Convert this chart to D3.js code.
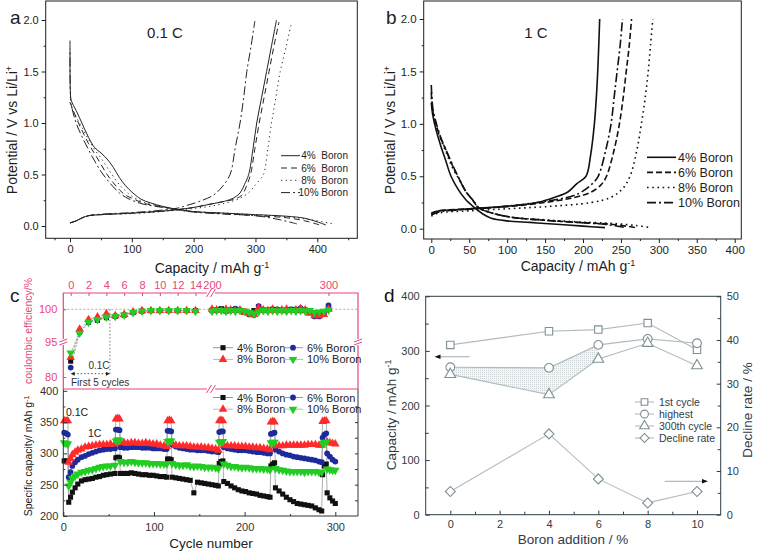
<!DOCTYPE html>
<html><head><meta charset="utf-8">
<script src="https://cdn.jsdelivr.net/npm/d3@7"></script>
<style>body{margin:0;background:#fff}svg{display:block}</style>
</head><body><svg id="chart" width="758" height="556"></svg>
<script>
// ---------------- DATA ----------------
// Panel a (0.1 C): [capacity mAh/g, potential V]
const aDis4 = [[0,1.72],[0.6,1.3],[2,1.22],[10,1.12],[20,0.99],[30,0.86],[40,0.76],[50,0.71],[60,0.65],[70,0.57],[80,0.47],[90,0.39],[100,0.33],[115,0.26],[130,0.225],[150,0.19],[175,0.16],[200,0.14],[250,0.125],[300,0.11],[350,0.095],[380,0.075],[400,0.04],[414,0.01]];
const aDis6 = [[0,1.2],[2,1.17],[10,1.05],[20,0.92],[30,0.8],[40,0.7],[50,0.6],[60,0.5],[70,0.42],[80,0.35],[90,0.3],[100,0.27],[120,0.22],[150,0.185],[175,0.16],[200,0.14],[250,0.12],[300,0.1],[350,0.08],[380,0.05],[404,0.01]];
const aDis8 = [[0,1.2],[2,1.16],[10,1.06],[20,0.95],[30,0.84],[40,0.74],[50,0.66],[60,0.57],[70,0.48],[80,0.4],[90,0.34],[100,0.29],[120,0.23],[150,0.19],[175,0.16],[200,0.14],[250,0.125],[300,0.11],[350,0.09],[390,0.06],[426,0.02]];
const aDis10 = [[0,1.8],[0.6,1.3],[2,1.18],[10,1.0],[20,0.86],[30,0.74],[40,0.63],[50,0.53],[60,0.45],[70,0.38],[80,0.32],[90,0.28],[100,0.25],[120,0.21],[150,0.18],[175,0.155],[200,0.135],[250,0.115],[300,0.1],[340,0.06],[367,0.02]];
const aCh4 = [[0,0.03],[10,0.05],[20,0.08],[30,0.1],[50,0.11],[100,0.125],[150,0.145],[175,0.16],[200,0.18],[225,0.21],[250,0.24],[264,0.27],[275,0.32],[282,0.4],[289,0.5],[296,0.75],[302,1.0],[310,1.25],[318,1.5],[326,1.75],[334,2.0]];
const aCh6 = [[0,0.03],[10,0.05],[20,0.08],[30,0.1],[50,0.11],[100,0.125],[150,0.145],[175,0.16],[200,0.18],[225,0.21],[250,0.24],[266,0.26],[278,0.3],[285,0.38],[292,0.5],[299,0.75],[306,1.0],[314,1.25],[322,1.5],[330,1.75],[338,1.98]];
const aCh8 = [[0,0.03],[10,0.05],[20,0.08],[30,0.1],[50,0.11],[100,0.12],[150,0.14],[175,0.155],[200,0.17],[225,0.19],[250,0.22],[275,0.27],[290,0.33],[300,0.4],[307,0.45],[313,0.5],[320,0.75],[326,1.0],[333,1.25],[340,1.5],[350,1.75],[358,1.97]];
const aCh10 = [[0,0.03],[10,0.05],[20,0.08],[30,0.1],[50,0.115],[100,0.13],[150,0.155],[175,0.175],[189,0.2],[210,0.24],[232,0.3],[246,0.38],[259,0.5],[267,0.75],[275,1.0],[281,1.25],[286,1.5],[293,1.75],[299,1.99]];

// Panel b (1 C)
const bDis4 = [[0,1.2],[2,1.08],[6,0.95],[12,0.8],[19,0.65],[26,0.5],[35,0.38],[45,0.28],[57,0.2],[68,0.14],[79,0.1],[100,0.075],[130,0.06],[160,0.045],[200,0.025],[229,0.01]];
const bDis6 = [[0,1.3],[2,1.12],[6,1.0],[12,0.87],[20,0.74],[28,0.6],[35,0.5],[46,0.35],[55,0.27],[62,0.2],[80,0.15],[105,0.11],[150,0.08],[193,0.06],[240,0.04],[270,0.01]];
const bDis8 = [[0,1.25],[2,1.1],[6,0.98],[12,0.86],[20,0.72],[28,0.58],[36,0.48],[46,0.35],[55,0.27],[63,0.2],[80,0.15],[105,0.11],[150,0.085],[193,0.065],[240,0.05],[270,0.03],[290,0.01]];
const bDis10 = [[0,1.37],[2,1.15],[6,1.02],[12,0.88],[20,0.74],[28,0.61],[35,0.5],[46,0.35],[55,0.27],[62,0.2],[80,0.15],[105,0.11],[150,0.08],[193,0.06],[230,0.04],[257,0.01]];
const bCh4 = [[0,0.14],[10,0.17],[30,0.18],[50,0.19],[100,0.215],[140,0.25],[163,0.3],[180,0.35],[192,0.43],[204,0.5],[210,0.7],[215,1.0],[218,1.3],[220,1.6],[222,2.0]];
const bCh6 = [[0,0.15],[10,0.17],[50,0.19],[100,0.21],[150,0.25],[190,0.3],[211,0.35],[224,0.42],[231,0.5],[241,0.75],[248,1.0],[253,1.25],[257,1.5],[261,1.75],[264,2.0]];
const bCh8 = [[0,0.12],[10,0.15],[50,0.17],[100,0.19],[150,0.21],[211,0.25],[237,0.3],[252,0.38],[262,0.5],[271,0.75],[277,1.0],[282,1.25],[286,1.5],[289,1.75],[292,2.0]];
const bCh10 = [[0,0.13],[10,0.16],[50,0.185],[100,0.215],[150,0.26],[185,0.31],[198,0.35],[211,0.42],[220,0.5],[230,0.75],[237,1.0],[241,1.25],[245,1.5],[249,1.75],[252,2.0]];

// Panel c, top: coulombic efficiency
const ceEarlyX = [0,1,2,3,4,5,6,7,8,9,10,11,12,13,14];
const ceEarly4 = [86.7,96.5,98.0,98.3,98.7,98.9,99.1,99.5,99.7,99.8,99.8,99.8,99.8,99.8,99.8];
const ceEarly6 = [84.0,96.4,98.1,98.4,98.8,98.9,99.1,99.5,99.7,99.8,99.8,99.8,99.8,99.8,99.8];
const ceEarly8 = [88.3,96.9,98.4,98.8,99.3,99.0,99.2,99.6,99.8,99.8,99.8,99.8,99.8,99.8,99.8];
const ceEarly10 = [90.2,96.3,98.0,98.4,98.8,98.9,99.1,99.5,99.7,99.8,99.8,99.8,99.8,99.8,99.7];
const ceLateX = [200,204,208,212,216,220,224,228,232,236,240,244,248,252,256,260,264,268,272,276,280,284,288,292,296,300];
const ceLate4 = [99.8,99.9,100.1,99.7,99.9,100.0,99.8,99.7,99.5,99.8,100.3,99.9,99.8,100.0,99.9,99.8,99.9,100.0,99.9,99.8,99.9,99.6,99.2,99.3,99.4,100.2];
const ceLate6 = [99.9,99.8,100.0,99.9,99.8,100.1,99.9,99.6,99.2,99.1,100.5,99.8,99.9,99.8,100.0,99.9,99.8,99.9,100.0,100.2,99.8,99.5,98.9,98.9,99.3,100.6];
const ceLate8 = [100.0,99.9,99.8,100.0,99.9,99.8,99.9,99.5,99.3,99.2,100.2,99.9,99.8,100.0,99.8,99.9,100.0,99.8,99.9,100.1,99.9,99.4,99.0,99.0,99.2,100.0];
const ceLate10 = [99.7,99.8,99.8,99.7,99.8,99.7,99.8,99.7,99.5,99.3,99.6,99.8,99.7,99.8,99.7,99.8,99.7,99.8,99.7,99.8,99.7,99.8,99.5,99.6,99.7,99.9];

// Panel c, bottom: specific capacity vs cycle
const cCycles = [1,3,5, 6,8,10,13,16,20,24,28,32,36,40,44,48,52,57, 58,60,62, 63,67,71,75,79,83,87,91,95,99,103,107,111,114, 115,117,119, 120,124,128,132,136,140,144,148,152,156,160,164,168,171, 172,174,176, 177,181,185,189,193,197,201,205,209,213,217,221,225,228, 229,231,233, 234,238,242,246,250,254,258,262,266,270,274,278,282,285, 286,288,290, 291,294,297,300];
const cap4 = [288,288,287, 222,230,238,245,251,256,258,259,260,262,263,265,266,267,268, 293,294,293, 268,268,268,269,268,267,266,266,265,265,264,263,263,262, 291,291,290, 262,261,260,259,258,257,237,254,253,252,251,250,249,248, 284,287,288, 255,252,248,245,242,240,239,237,236,235,233,232,231,230, 280,283,285, 245,240,235,230,226,223,220,219,218,217,216,213,210,208, 266,280,283, 237,229,224,220];
const cap6 = [333,332,330, 262,270,280,286,290,294,296,299,301,303,305,306,307,307,308, 338,338,337, 310,309,309,310,310,310,309,309,309,308,308,308,307,307, 336,336,335, 314,311,309,308,307,306,306,305,305,305,304,303,303,302, 334,335,335, 310,308,307,306,305,305,305,304,303,302,302,301,300,300, 331,332,333, 306,303,300,298,297,295,294,293,292,291,290,289,287,286, 325,330,332, 300,295,290,287];
const cap8 = [352,352,352, 286,292,298,302,305,307,310,311,312,313,314,314,314,315,315, 355,356,355, 318,317,316,317,317,316,316,317,316,315,315,313,312,311, 352,353,352, 316,313,312,312,312,311,310,310,310,309,309,308,307,305, 352,353,352, 313,312,312,312,311,311,311,310,310,309,309,308,307,306, 350,351,350, 312,312,312,313,313,313,313,313,313,314,314,314,313,313, 351,352,352, 318,317,316,315];
const cap10 = [317,316,315, 248,254,260,264,267,270,271,273,274,276,278,279,280,280,281, 320,322,321, 287,286,286,287,286,285,285,285,284,284,284,283,283,283, 319,320,320, 284,282,281,281,282,280,279,280,279,278,278,278,277,276, 318,319,319, 283,281,279,279,278,277,278,277,276,276,276,275,275,274, 317,318,318, 276,274,273,272,271,271,271,271,270,271,271,271,270,270, 316,318,318, 275,274,273,273];

// Panel d
const dBoron = [0,4,6,8,10];
const dFirst = [311,336,339,351,302];
const dHighest = [270,269,311,322,314];
const d300th = [257,220,285,314,273];
const dDecline = [5.3,18.5,8.2,2.7,5.3];

const seriesNames = ['4% Boron','6% Boron','8% Boron','10% Boron'];

// ---------------- DRAWING ----------------
const svg = d3.select('#chart');
const FONT = '"Liberation Sans", Arial, Helvetica, sans-serif';
const INK = '#1d1d1d';
const PINK = '#e8467c';

function txt(x,y,s,o={}){
  const t = svg.append('text').attr('x',x).attr('y',y).attr('font-family',FONT)
    .attr('font-size',o.fs||12).attr('fill',o.fill||INK).attr('text-anchor',o.anchor||'start');
  if(o.rot) t.attr('transform',`rotate(${o.rot},${x},${y})`);
  if(o.parts){
    o.parts.forEach(p=>{const ts=t.append('tspan').text(p[0]); if(p[1]) ts.attr('baseline-shift','super').attr('font-size',(o.fs||12)*0.65);});
  } else t.text(s);
  if(o.pre) t.style('white-space','pre');
  return t;
}
function ax(gen,tx,ty,color,fs){
  const g = svg.append('g').attr('transform',`translate(${tx},${ty})`).call(gen);
  g.select('.domain').remove();
  g.selectAll('.tick line').attr('stroke',color).attr('stroke-width',1);
  g.selectAll('.tick text').attr('fill',color).attr('font-size',fs).attr('font-family',FONT);
  return g;
}
function frame(x0,y0,x1,y1,color,sw){
  svg.append('rect').attr('x',x0).attr('y',y0).attr('width',x1-x0).attr('height',y1-y0)
    .attr('fill','none').attr('stroke',color||INK).attr('stroke-width',sw||1);
}

// ===== Panel a =====
const xA = d3.scaleLinear().domain([0,400]).range([70,317.3]);
const yA = d3.scaleLinear().domain([0,2]).range([226,20]);
frame(45.7,1,357.3,238.3);
ax(d3.axisBottom(xA).tickValues([0,100,200,300,400]).tickSize(4).tickPadding(3),0,238.3,INK,11);
ax(d3.axisBottom(xA).tickValues([-25,50,150,250,350,450]).tickSize(2).tickFormat(''),0,238.3,INK,11);
ax(d3.axisLeft(yA).tickValues([0,0.5,1,1.5,2]).tickSize(4).tickPadding(3).tickFormat(d3.format('.1f')),45.7,0,INK,11);
ax(d3.axisLeft(yA).tickValues([0.25,0.75,1.25,1.75]).tickSize(2).tickFormat(''),45.7,0,INK,11);
const lineA = d3.line().x(d=>xA(d[0])).y(d=>yA(d[1])).curve(d3.curveCatmullRom.alpha(0.5));
const dashA = ['none','6,4','1.2,3.5','9,3,2,3'];
[[aDis4,aCh4],[aDis6,aCh6],[aDis8,aCh8],[aDis10,aCh10]].forEach((pair,i)=>{
  pair.forEach(d=>svg.append('path').attr('d',lineA(d)).attr('fill','none').attr('stroke','#222')
    .attr('stroke-width',1).attr('stroke-dasharray',dashA[i]));
});
txt(10,24,'a',{fs:19});
txt(165,38,'0.1 C',{fs:15,anchor:'middle'});
txt(212,273,'',{fs:14,anchor:'middle',parts:[['Capacity / mAh g'],['-1',1]]});
txt(17,130,'',{fs:14,anchor:'middle',rot:-90,parts:[['Potential / V vs Li/Li'],['+',1]]});
const legA = ['4%  Boron','6%  Boron','8%  Boron','10% Boron'];
legA.forEach((s,i)=>{
  const y = 155.7 + i*12.3;
  svg.append('line').attr('x1',281).attr('x2',300).attr('y1',y).attr('y2',y).attr('stroke','#222').attr('stroke-width',1).attr('stroke-dasharray',dashA[i]);
  txt(348,y+3.7,s,{fs:10,anchor:'end',pre:true});
});

// ===== Panel b =====
const xB = d3.scaleLinear().domain([0,400]).range([431.3,734.7]);
const yB = d3.scaleLinear().domain([0,2]).range([228.7,19]);
frame(423.7,1,741.3,239);
ax(d3.axisBottom(xB).tickValues([0,50,100,150,200,250,300,350,400]).tickSize(4).tickPadding(3),0,239,INK,11.5);
ax(d3.axisBottom(xB).tickValues([25,75,125,175,225,275,325,375]).tickSize(2).tickFormat(''),0,239,INK,11);
ax(d3.axisLeft(yB).tickValues([0,0.5,1,1.5,2]).tickSize(4).tickPadding(3).tickFormat(d3.format('.1f')),423.7,0,INK,11.5);
ax(d3.axisLeft(yB).tickValues([0.25,0.75,1.25,1.75]).tickSize(2).tickFormat(''),423.7,0,INK,11);
const lineB = d3.line().x(d=>xB(d[0])).y(d=>yB(d[1])).curve(d3.curveCatmullRom.alpha(0.5));
const dashB = ['none','6,3','1.6,3.6','9,3,2,3'];
[[bDis4,bCh4],[bDis6,bCh6],[bDis8,bCh8],[bDis10,bCh10]].forEach((pair,i)=>{
  pair.forEach(d=>svg.append('path').attr('d',lineB(d)).attr('fill','none').attr('stroke','#111')
    .attr('stroke-width',1.6).attr('stroke-dasharray',dashB[i]));
});
txt(386,24,'b',{fs:19});
txt(536,38,'1 C',{fs:15,anchor:'middle'});
txt(578,271,'',{fs:14,anchor:'middle',parts:[['Capacity / mAh g'],['-1',1]]});
txt(395,130,'',{fs:14,anchor:'middle',rot:-90,parts:[['Potential / V vs Li/Li'],['+',1]]});
seriesNames.forEach((s,i)=>{
  const y = 157.3 + i*15.1;
  svg.append('line').attr('x1',647).attr('x2',676).attr('y1',y).attr('y2',y).attr('stroke','#111').attr('stroke-width',1.6).attr('stroke-dasharray',dashB[i]);
  txt(678,y+4.5,s,{fs:12.5});
});

// ===== Panel c =====
const cColors = ['#111111','#1c2a9c','#ff2a2a','#22cc22'];
const cSymbols = [d3.symbolSquare,d3.symbolCircle,d3.symbolTriangle,d3.symbolTriangle];
const cSizes = [26,26,32,32];
const cRot = [0,0,0,180];
function marker(g,i,x,y,scale){
  g.append('path').attr('d',d3.symbol().type(cSymbols[i]).size(cSizes[i]*(scale||1))())
    .attr('transform',`translate(${x},${y}) rotate(${cRot[i]})`).attr('fill',cColors[i]);
}
// bottom
const xC = d3.scaleLinear().domain([0,300]).range([63.3,335.3]);
const yC = d3.scaleLinear().domain([200,400]).range([516,390.8]);
const capSeries = [cap4,cap6,cap8,cap10];
capSeries.forEach((vals,i)=>{
  const pts = cCycles.map((c,k)=>[xC(c),yC(vals[k])]);
  svg.append('path').attr('d',d3.line()(pts)).attr('fill','none').attr('stroke','#9a9a9a').attr('stroke-width',0.8);
});
capSeries.forEach((vals,i)=>{
  const g = svg.append('g');
  cCycles.forEach((c,k)=>marker(g,i,xC(c),yC(vals[k])));
});
svg.append('path').attr('d',`M63.3,389V516H358V389`).attr('fill','none').attr('stroke','#333');
ax(d3.axisLeft(yC).tickValues([200,250,300,350,400]).tickSize(-4).tickPadding(5),63.3,0,'#333',11);
ax(d3.axisLeft(yC).tickValues([225,275,325,375]).tickSize(-2).tickFormat(''),63.3,0,'#333',11);
ax(d3.axisRight(yC).tickValues([225,250,275,300,325,350,375]).tickSize(-3).tickFormat(''),358,0,'#333',11);
ax(d3.axisBottom(xC).tickValues([0,100,200,300]).tickSize(-4).tickPadding(7),0,516,'#333',11);
ax(d3.axisBottom(xC).tickValues([50,150,250]).tickSize(-2).tickFormat(''),0,516,'#333',11);
txt(211,548,'Cycle number',{fs:13.5,anchor:'middle',fill:'#222'});
txt(32,456,'',{fs:10.5,anchor:'middle',rot:-90,fill:'#222',parts:[['Specific capacity/ mAh g'],['-1',1]]});
txt(66,416,'0.1C',{fs:10.5,fill:'#222'});
txt(88,437,'1C',{fs:10.5,fill:'#222'});

// top (CE)
const xCe1 = d3.scaleLinear().domain([0,14]).range([70.7,195.5]);
const xCe2 = d3.scaleLinear().domain([200,300]).range([212,328.5]);
const yCe = d3.scaleLinear().domain([80,95,100]).range([377,341.5,309.3]);
svg.append('line').attr('x1',63.3).attr('x2',358).attr('y1',yCe(100)).attr('y2',yCe(100)).attr('stroke','#999').attr('stroke-dasharray','2,2').attr('stroke-width',0.8);
const ceE = [ceEarly4,ceEarly6,ceEarly8,ceEarly10];
const ceL = [ceLate4,ceLate6,ceLate8,ceLate10];
ceE.forEach((vals,i)=>{
  svg.append('path').attr('d',d3.line()(ceEarlyX.map((x,k)=>[xCe1(x),yCe(vals[k])]))).attr('fill','none').attr('stroke','#999').attr('stroke-width',0.8).attr('stroke-dasharray','2,1.5');
});
ceE.forEach((vals,i)=>{const g=svg.append('g'); ceEarlyX.forEach((x,k)=>marker(g,i,xCe1(x),yCe(vals[k])));});
ceL.forEach((vals,i)=>{
  svg.append('path').attr('d',d3.line()(ceLateX.map((x,k)=>[xCe2(x),yCe(vals[k])]))).attr('fill','none').attr('stroke','#999').attr('stroke-width',0.8);
});
ceL.forEach((vals,i)=>{const g=svg.append('g'); ceLateX.forEach((x,k)=>marker(g,i,xCe2(x),yCe(vals[k])));});
// first 5 cycles annotation
const x5 = xCe1(4.4);
svg.append('line').attr('x1',x5).attr('x2',x5).attr('y1',yCe(100)).attr('y2',374).attr('stroke','#555').attr('stroke-dasharray','1.5,2').attr('stroke-width',0.8);
svg.append('line').attr('x1',xCe1(0)+3).attr('x2',x5-3).attr('y1',373.7).attr('y2',373.7).attr('stroke','#444').attr('stroke-dasharray','1.5,2').attr('stroke-width',0.9);
svg.append('path').attr('d',`M${xCe1(0)},373.7l4,-2v4z`).attr('fill','#222');
svg.append('path').attr('d',`M${x5},373.7l-4,-2v4z`).attr('fill','#222');
txt(99,369,'0.1C',{fs:10,anchor:'middle',fill:'#333'});
txt(71,386,'First 5 cycles',{fs:10,fill:'#333'});
// pink frame
svg.append('path').attr('d','M63.3,389V293H358V389H63.3').attr('fill','none').attr('stroke',PINK).attr('stroke-width',1.2);
ax(d3.axisTop(xCe1).tickValues([0,2,4,6,8,10,12,14]).tickSize(-3).tickPadding(4),0,293,PINK,11);
ax(d3.axisTop(xCe2).tickValues([200,300]).tickSize(-3).tickPadding(4),0,293,PINK,11);
ax(d3.axisLeft(yCe).tickValues([80,95,100]).tickSize(-3).tickPadding(6),63.3,0,PINK,11);
// break marks
function brk(x,y,c){
  [-2,2].forEach(o=>svg.append('line').attr('x1',x+o-2.5).attr('y1',y+4).attr('x2',x+o+2.5).attr('y2',y-4).attr('stroke',c).attr('stroke-width',1));
}
svg.append('rect').attr('x',207).attr('y',290).attr('width',8).attr('height',6).attr('fill','#fff');
brk(211,293,PINK);
svg.append('rect').attr('x',207).attr('y',386).attr('width',8).attr('height',6).attr('fill','#fff');
brk(211,389,PINK);
function brkH(x,y,c){
  svg.append('rect').attr('x',x-3).attr('y',y-3).attr('width',6).attr('height',6).attr('fill','#fff');
  [-1.5,1.5].forEach(o=>svg.append('line').attr('x1',x-4).attr('y1',y+o+1.5).attr('x2',x+4).attr('y2',y+o-1.5).attr('stroke',c).attr('stroke-width',1));
}
brkH(63.3,342,PINK); brkH(358,342,PINK);
txt(32,331,'coulombic efficiency/%',{fs:10.5,anchor:'middle',rot:-90,fill:PINK});
txt(10,302,'c',{fs:19});

// c legends
function cLegend(y0){
  seriesNames.forEach((s,i)=>{
    const col = i%2, row = Math.floor(i/2);
    const x = col===0 ? 213 : 283, y = y0 + row*11.7;
    svg.append('line').attr('x1',x).attr('x2',x+20).attr('y1',y).attr('y2',y).attr('stroke', i===2?'#f3a0b0':(i===3?'#8fd88f':'#999')).attr('stroke-width',1);
    marker(svg.append('g'),i,x+10,y);
    txt(x+24,y+4,s,{fs:11,fill:'#222'});
  });
}
cLegend(347.7);
cLegend(397.5);

// ===== Panel d =====
const DC = '#2e3d44';
const xD = d3.scaleLinear().domain([0,10]).range([450.3,697]);
const yD = d3.scaleLinear().domain([0,400]).range([514.7,296.3]);
const yD2 = d3.scaleLinear().domain([0,50]).range([514.7,296.3]);
const shade = d3.area().x(d=>xD(d[0])).y0(d=>yD(d[1])).y1(d=>yD(d[2]));
const shadeData = dBoron.slice(0,3).map((b,k)=>[b,d300th[k],dHighest[k]]);
const defs = svg.append('defs');
const pat = defs.append('pattern').attr('id','dots').attr('width',2).attr('height',2).attr('patternUnits','userSpaceOnUse');
pat.append('rect').attr('width',2).attr('height',2).attr('fill','#f4f5f5');
pat.append('rect').attr('width',1).attr('height',1).attr('fill','#cfd4d6');
svg.append('path').attr('d',shade(shadeData)).attr('fill','url(#dots)');
frame(425.7,296.3,720.7,514.7,DC);
ax(d3.axisLeft(yD).tickValues([0,100,200,300,400]).tickSize(-4).tickPadding(6),425.7,0,DC,11);
ax(d3.axisLeft(yD).tickValues([50,150,250,350]).tickSize(-3).tickFormat(''),425.7,0,DC,11);
ax(d3.axisRight(yD2).tickValues([0,10,20,30,40,50]).tickSize(-4).tickPadding(6),720.7,0,DC,11);
ax(d3.axisRight(yD2).tickValues([5,15,25,35,45]).tickSize(-3).tickFormat(''),720.7,0,DC,11);
ax(d3.axisBottom(xD).tickValues([0,2,4,6,8,10]).tickSize(-4).tickPadding(6),0,514.7,DC,11);
ax(d3.axisBottom(xD).tickValues([1,3,5,7,9]).tickSize(-3).tickFormat(''),0,514.7,DC,11);
const LC = '#aebcc0', MC = '#7e9095';
const dSym = [d3.symbolSquare,d3.symbolCircle,d3.symbolTriangle,d3.symbolSquare];
const dSz = [55,60,50,50];
const dRot = [0,0,0,45];
const dSeries = [[dFirst,yD],[dHighest,yD],[d300th,yD],[dDecline,yD2]];
dSeries.forEach(([vals,ys],i)=>{
  svg.append('path').attr('d',d3.line()(dBoron.map((b,k)=>[xD(b),ys(vals[k])]))).attr('fill','none').attr('stroke',LC).attr('stroke-width',1.1);
  dBoron.forEach((b,k)=>svg.append('path').attr('d',d3.symbol().type(dSym[i]).size(dSz[i])())
    .attr('transform',`translate(${xD(b)},${ys(vals[k])}) rotate(${dRot[i]})`).attr('fill','#fff').attr('stroke',MC).attr('stroke-width',1.1));
});
// arrows
svg.append('line').attr('x1',469.7).attr('x2',440).attr('y1',356.7).attr('y2',356.7).attr('stroke',LC).attr('stroke-width',1.2);
svg.append('path').attr('d','M434.5,356.7l6,-2.2v4.4z').attr('fill','#111');
svg.append('line').attr('x1',664.7).attr('x2',702).attr('y1',481.3).attr('y2',481.3).attr('stroke',LC).attr('stroke-width',1.2);
svg.append('path').attr('d','M708,481.3l-6,-2.2v4.4z').attr('fill','#111');
// legend
['1st cycle','highest','300th cycle','Decline rate'].forEach((s,i)=>{
  const y = 402 + i*12;
  svg.append('line').attr('x1',635).attr('x2',654).attr('y1',y).attr('y2',y).attr('stroke',LC).attr('stroke-width',1.1);
  svg.append('path').attr('d',d3.symbol().type(dSym[i]).size(dSz[i]*0.8)()).attr('transform',`translate(644.5,${y}) rotate(${dRot[i]})`).attr('fill','#fff').attr('stroke',MC).attr('stroke-width',1.1);
  txt(659,y+4,s,{fs:10.5,fill:DC});
});
txt(384,302,'d',{fs:19,fill:'#111'});
txt(573,544,'Boron addition / %',{fs:13.5,anchor:'middle',fill:DC});
txt(396,415,'',{fs:13.5,anchor:'middle',rot:-90,fill:DC,parts:[['Capacity / mAh g'],['-1',1]]});
txt(752,410,'Decline rate / %',{fs:13.5,anchor:'middle',rot:-90,fill:DC});
</script></body></html>
